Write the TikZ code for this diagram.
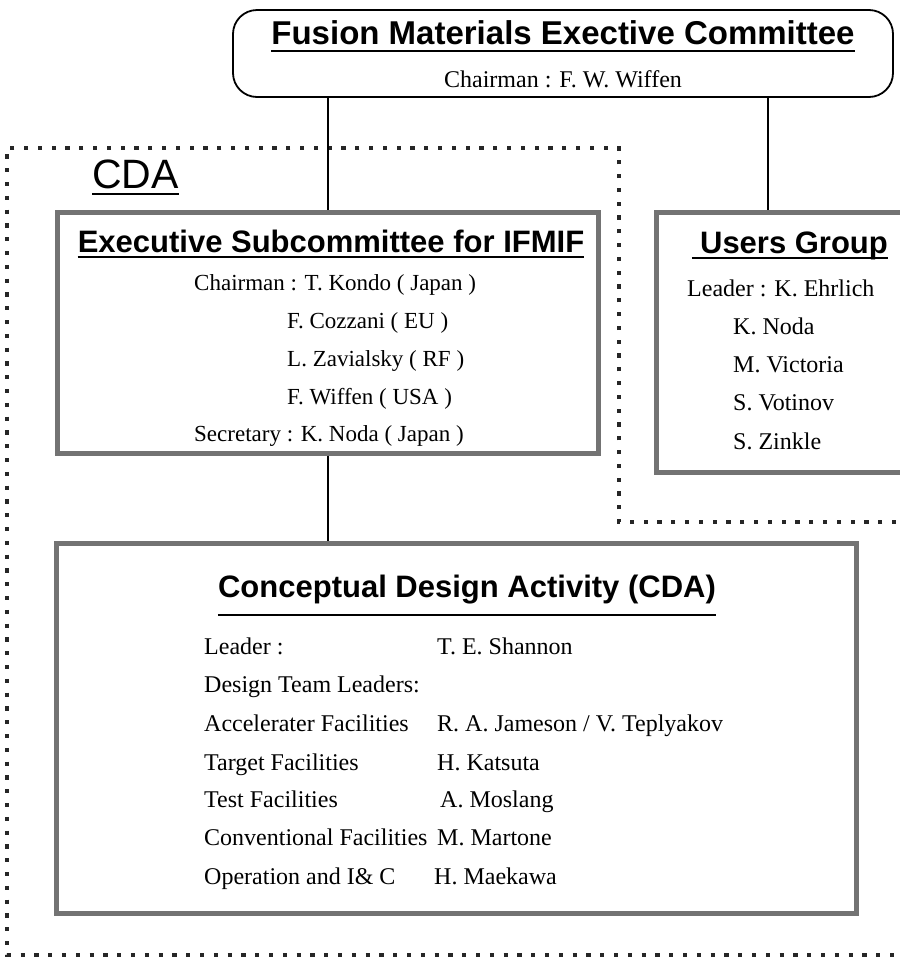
\documentclass[tikz,border=0pt]{standalone}
\usepackage{fontspec}
\setmainfont{Liberation Serif}
\setsansfont{Liberation Sans}
\usetikzlibrary{positioning}

\tikzset{
  panel/.style={draw=black!55, line width=5pt, inner sep=0pt},
  headbox/.style={draw, rounded corners=24pt, line width=1.8pt, inner sep=0pt},
  head/.style={font=\sffamily\bfseries\fontsize{31}{35}\selectfont, inner sep=0pt},
  entry/.style={font=\fontsize{24}{28}\selectfont, inner sep=0pt},
  uline/.style={line width=2pt},
  link/.style={line width=2pt},
  cdaborder/.style={draw=black!85, line width=4.2pt, dash pattern=on 4.2pt off 9.6pt}
}

\begin{document}
\begin{tikzpicture}[x=1pt,y=-1pt]
 \useasboundingbox (0,0) rectangle (900,959);
 % dotted CDA region
 \draw[cdaborder] (910,522) -- (619,522) -- (619,148) -- (7,148) -- (7,955) -- (910,955);
 \node[font=\sffamily\fontsize{41}{45}\selectfont, inner sep=0pt, anchor=base west] (cdalabel) at (92,188) {CDA};
 \draw[uline] ([yshift=-6pt]cdalabel.base west) -- ([yshift=-6pt]cdalabel.base east);

 % boxes
 \node[headbox, minimum width=660pt, minimum height=87pt] (fmec) at (563,53.5) {};
 \node[panel, minimum width=541pt, minimum height=241pt] (exec) at (327.5,332.5) {};
 \node[panel, minimum width=274pt, minimum height=260pt] (users) at (793,342) {};
 \node[panel, minimum width=800pt, minimum height=370pt] (cda) at (456,728) {};
 \coordinate (ujoin) at ([xshift=114pt]users.north west);

 % connectors
 \draw[link] (fmec.south -| exec.north) -- (exec.north);
 \draw[link] (fmec.south -| ujoin) -- (ujoin);
 \draw[link] (exec.south) -- (exec.south |- cda.north);

 % executive committee
 \node[head, font=\sffamily\bfseries\fontsize{33}{37}\selectfont, anchor=base] (fmectitle) at (563,44) {Fusion Materials Exective Committee};
 \draw[uline] ([yshift=-7pt]fmectitle.base west) -- ([yshift=-7pt]fmectitle.base east);
 \node[entry, anchor=base] (fmecchair) at (563,87) {Chairman : F. W. Wiffen};

 % subcommittee
 \node[head, anchor=base] (exectitle) at (331,252) {Executive Subcommittee for IFMIF};
 \draw[uline] ([yshift=-5pt]exectitle.base west) -- ([yshift=-5pt]exectitle.base east);
 \node[entry, font=\fontsize{23}{27}\selectfont, anchor=base west] (execchair) at (194,290) {Chairman : T. Kondo ( Japan )};
 \node[entry, font=\fontsize{23}{27}\selectfont, anchor=base west] (execeu) at (287,328) {F. Cozzani ( EU )};
 \node[entry, font=\fontsize{23}{27}\selectfont, anchor=base west] (execrf) at (287,366) {L. Zavialsky ( RF )};
 \node[entry, font=\fontsize{23}{27}\selectfont, anchor=base west] (execusa) at (287,404) {F. Wiffen ( USA )};
 \node[entry, font=\fontsize{23}{27}\selectfont, anchor=base west] (execsec) at (194,441) {Secretary : K. Noda ( Japan )};

 % users group
 \node[head, anchor=base] (userstitle) at (794,253) {Users Group};
 \draw[uline] ([xshift=-8pt,yshift=-5pt]userstitle.base west) -- ([yshift=-5pt]userstitle.base east);
 \node[entry, anchor=base west] (usersleader) at (687,296) {Leader : K. Ehrlich};
 \node[entry, anchor=base west] (usersa) at (733,334) {K. Noda};
 \node[entry, anchor=base west] (usersb) at (733,372) {M. Victoria};
 \node[entry, anchor=base west] (usersc) at (733,410) {S. Votinov};
 \node[entry, anchor=base west] (usersd) at (733,449) {S. Zinkle};

 % design activity
 \node[head, anchor=base] (cdatitle) at (467,597) {Conceptual Design Activity (CDA)};
 \draw[uline] ([yshift=-18pt]cdatitle.base west) -- ([yshift=-18pt]cdatitle.base east);
 \node[entry, anchor=base west] (rowa) at (204,654) {Leader :};
 \node[entry, anchor=base west] (rowb) at (204,692) {Design Team Leaders:};
 \node[entry, anchor=base west] (rowc) at (204,731) {Accelerater Facilities};
 \node[entry, anchor=base west] (rowd) at (204,770) {Target Facilities};
 \node[entry, anchor=base west] (rowe) at (204,807) {Test Facilities};
 \node[entry, anchor=base west] (rowf) at (204,845) {Conventional Facilities};
 \node[entry, anchor=base west] (rowg) at (204,884) {Operation and I\& C};
 \node[entry, anchor=base west] (namea) at (437,654) {T. E. Shannon};
 \node[entry, anchor=base west] (namec) at (437,731) {R. A. Jameson / V. Teplyakov};
 \node[entry, anchor=base west] (named) at (437,770) {H. Katsuta};
 \node[entry, anchor=base west] (namee) at (440,807) {A. Moslang};
 \node[entry, anchor=base west] (namef) at (437,845) {M. Martone};
 \node[entry, anchor=base west] (nameg) at (434,884) {H. Maekawa};
\end{tikzpicture}
\end{document}
